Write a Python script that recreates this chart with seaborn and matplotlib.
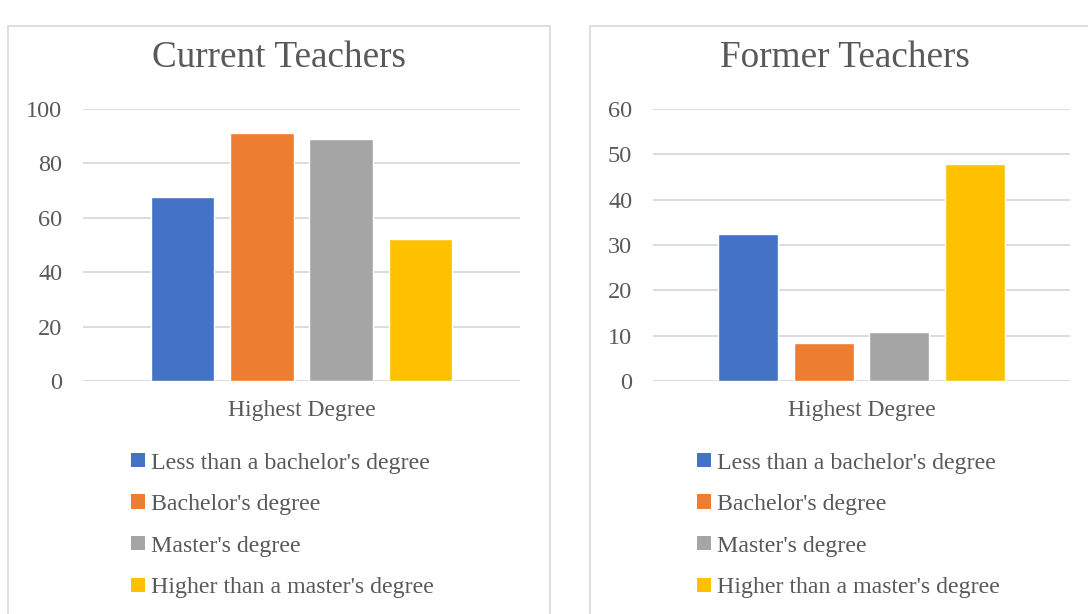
import pandas as pd
import matplotlib
matplotlib.use("Agg")
import matplotlib.pyplot as plt
import seaborn as sns
from matplotlib.patches import Rectangle, Patch

# Data
degrees = ["Less than a bachelor's degree", "Bachelor's degree",
           "Master's degree", "Higher than a master's degree"]
current_values = [67.6, 91.2, 89.0, 52.2]
former_values = [32.4, 8.4, 10.8, 47.9]
category = "Highest Degree"
colors = ["#4472C4", "#ED7D31", "#A5A5A5", "#FFC000"]

sns.set_theme(style="white")
plt.rcParams['font.family'] = ['Liberation Serif', 'DejaVu Serif']
text_col = "#595959"
grid_col = "#D9D9D9"

fig = plt.figure(figsize=(10.88, 6.14), dpi=100)
W, H = 1088, 614


def px_axes(x0, y0, x1, y1):
    return fig.add_axes([x0 / W, 1 - y1 / H, (x1 - x0) / W, (y1 - y0) / H])


# panel borders
for (x0, x1) in [(8, 550), (590, 1100)]:
    fig.patches.append(Rectangle((x0 / W, -0.05), (x1 - x0) / W, 1.05 - 26 / H,
                                 transform=fig.transFigure, fill=False,
                                 edgecolor=grid_col, lw=1.2))

panels = [
    ("Current Teachers", current_values, (83, 109, 520, 381), 100, 20, 279, 135),
    ("Former Teachers", former_values, (653, 109, 1070, 381), 60, 10, 845, 701),
]

for title, vals, box, ymax, step, tx, lx in panels:
    ax = px_axes(*box)
    df = pd.DataFrame({"group": [category] * len(degrees), "degree": degrees, "value": vals})
    sns.barplot(data=df, x="group", y="value", hue="degree", hue_order=degrees,
                palette=colors, width=0.724, gap=0.2, saturation=1,
                legend=False, ax=ax)
    ax.set_xlim(-0.5, 0.5)
    ax.set_ylim(0, ymax)
    ax.set_yticks(range(0, ymax + 1, step))
    ax.yaxis.grid(True, color=grid_col, lw=1.3)
    ax.set_axisbelow(True)
    for s in ax.spines.values():
        s.set_visible(False)
    ax.set_xlabel("")
    ax.set_ylabel("")
    ax.tick_params(axis="both", length=0, labelsize=17, labelcolor=text_col)
    ax.tick_params(axis="y", labelsize=17.5, pad=15)
    ax.tick_params(axis="x", pad=14)
    fig.text(tx / W, 1 - 58 / H, title, ha="center", va="center",
             fontsize=26.8, color=text_col)
    handles = [Patch(facecolor=c, edgecolor="none") for c in colors]
    fig.legend(handles, degrees, loc="upper left",
               bbox_to_anchor=(lx / W - 0.012, 1 - 443 / H),
               frameon=False, fontsize=17.2, labelcolor=text_col,
               handlelength=0.55, handleheight=0.55, handletextpad=0.25,
               labelspacing=0.86, borderaxespad=0)

fig.savefig("out.png", dpi=100)
